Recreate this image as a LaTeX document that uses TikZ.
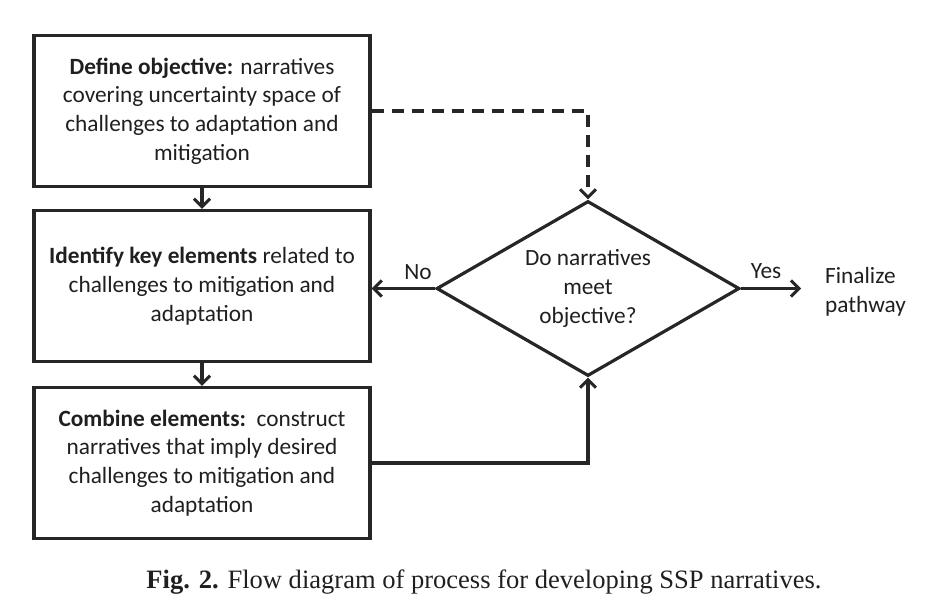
\documentclass[tikz,border=0pt]{standalone}
\usepackage{fontspec}
\setmainfont{Carlito}
\newfontfamily\capfont{Liberation Serif}
\usetikzlibrary{arrows.meta,shapes.geometric}
\begin{document}
\begin{tikzpicture}[x=1pt,y=-1pt,
  every node/.style={font=\fontsize{23.3}{28.7}\selectfont, text=black!88},
  box/.style={draw=black!85, line width=3.4pt, minimum width=336pt, minimum height=151pt, align=center, inner sep=0pt},
  decision/.style={draw=black!85, shape=diamond, aspect=1.73, line width=3.2pt, minimum width=303pt, minimum height=175pt, align=center, inner sep=0pt},
  conn/.style={draw=black!85, line width=3.2pt, -{Straight Barb[length=8pt,width=16pt,line width=3pt]}},
  dconn/.style={conn, dash pattern=on 12pt off 8pt},
  lbl/.style={inner sep=0pt}]
\useasboundingbox (0,0) rectangle (944,610);
\node[box] (b1) at (202,111) {\textbf{Define objective:} narratives\\covering uncertainty space of\\challenges to adaptation and\\mitigation};
\node[box] (b2) at (202,286) {\textbf{Identify key elements} related to\\challenges to mitigation and\\adaptation};
\node[box] (b3) at (202,463) {\textbf{Combine elements:}\ \ construct\\narratives that imply desired\\challenges to mitigation and\\adaptation};
\node[decision] (d) at (588,288.5) {Do narratives\\meet\\objective?};
\node[lbl, anchor=west, align=left] (fin) at (825,292) {Finalize\\pathway};
\node[lbl] (no) at (418,272) {No};
\node[lbl] (yes) at (766,271) {Yes};
\draw[conn] (b1.south) -- (b2.north);
\draw[conn] (b2.south) -- (b3.north);
\draw[dconn] (b1.east) -| (d.north);
\draw[conn] (b3.east) -| (d.south);
\draw[conn] (d.west) -- (d.west -| b2.east);
\draw[conn, shorten >=24pt] (d.east) -- (d.east -| fin.west);
\node[inner sep=0pt] (cap) at (484,582) {\resizebox{675pt}{!}{\fontsize{22}{26}\capfont\textbf{Fig. 2.} Flow diagram of process for developing SSP narratives.}};
\end{tikzpicture}
\end{document}
